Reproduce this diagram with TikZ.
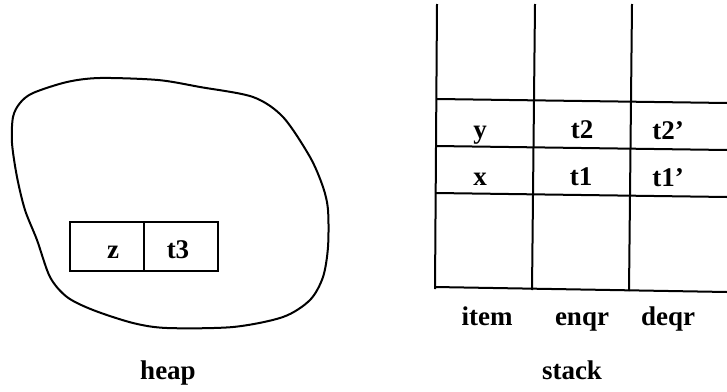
\documentclass[tikz,border=0pt]{standalone}
\usepackage{fontspec}
\setmainfont{Liberation Serif}
\usetikzlibrary{positioning}
\tikzset{
    cellbox/.style={draw, line width=1pt, minimum width=37pt, minimum height=24.5pt,
        inner sep=0pt, outer sep=0pt},
    rule/.style={line width=1pt},
    txt/.style={anchor=base, inner sep=0pt}
}
\begin{document}
\begin{tikzpicture}[x=0.5pt, y=-0.5pt, font=\fontsize{13.5}{16}\selectfont\bfseries]
        \useasboundingbox (0,0) rectangle (727,391);
        \begin{scope}
            \draw[rule] plot[smooth cycle, tension=0.5] coordinates {
                (20,103) (33,93) (67,82) (100,78) (158,80) (200,87) (253,97)
                (283,117) (310,157) (323,187) (328,210) (328,247) (323,277)
                (310,300) (283,317) (233,327) (167,328) (133,323) (93,310)
                (67,297) (50,277) (37,240) (25,210) (17,177) (12,143) (13,117)};
            \node[cellbox, anchor=north west] (zcell) at (70,222) {};
            \node[cellbox, right=0pt of zcell] (tcell) {};
            \node[txt] (ztxt) at (113,258) {z};
            \node[txt] (tthree) at (178,258) {t3};
            \node[txt] (heaplbl) at (168,379) {heap};
        \end{scope}
        \begin{scope}
            \draw[rule] (437,4) -- (435,289);
            \draw[rule] (535,4) -- (532,290);
            \draw[rule] (632,4) -- (629,291);
            \draw[rule] (437,99) -- (727,103);
            \draw[rule] (436,146) -- (727,150);
            \draw[rule] (436,193) -- (727,197);
            \draw[rule] (435,287) -- (727,292);
            \node[txt] (ytxt) at (480,138) {y};
            \node[txt] (ttwo) at (582,138) {t2};
            \node[txt] (ttwop) at (668,139) {t2'};
            \node[txt] (xtxt) at (480,185) {x};
            \node[txt] (tone) at (581,185) {t1};
            \node[txt] (tonep) at (668,186) {t1'};
            \node[txt] (itemlbl) at (487,325) {item};
            \node[txt] (enqrlbl) at (582,325) {enqr};
            \node[txt] (deqrlbl) at (668,325) {deqr};
            \node[txt] (stacklbl) at (572,379) {stack};
        \end{scope}
    \end{tikzpicture}
\end{document}
